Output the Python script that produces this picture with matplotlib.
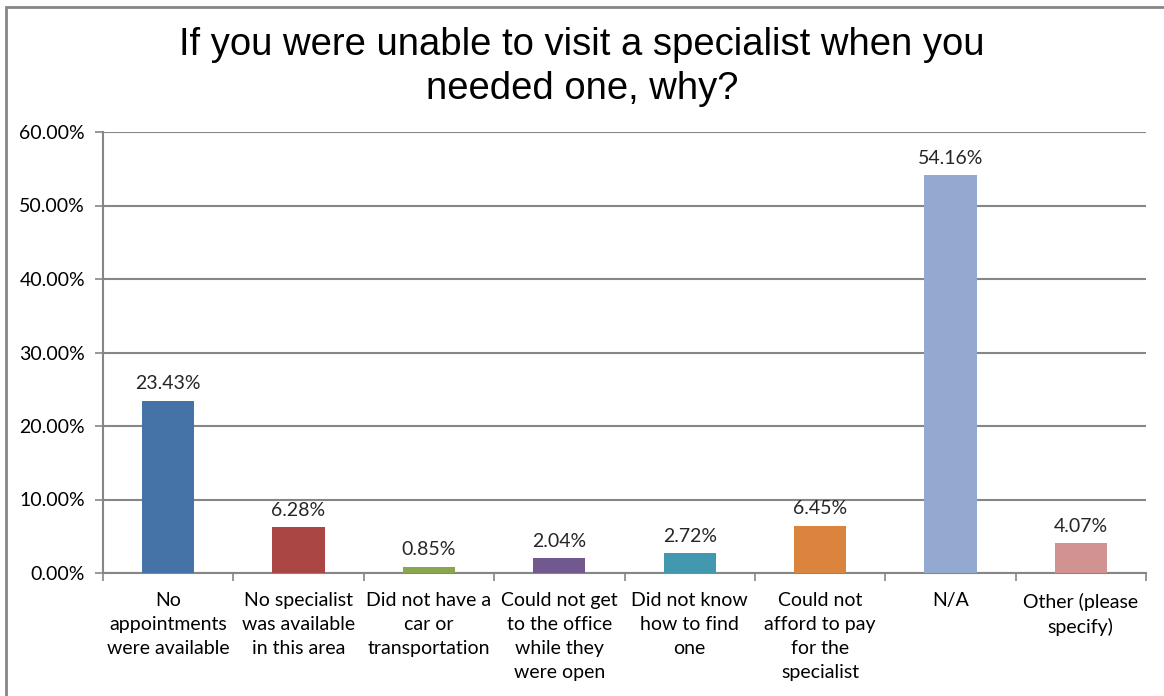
import numpy as np
import matplotlib.pyplot as plt
from matplotlib.patches import Rectangle

categories = [
    "No\nappointments\nwere available",
    "No specialist\nwas available\nin this area",
    "Did not have a\ncar or\ntransportation",
    "Could not get\nto the office\nwhile they\nwere open",
    "Did not know\nhow to find\none",
    "Could not\nafford to pay\nfor the\nspecialist",
    "N/A",
    "Other (please\nspecify)",
]
values = [23.43, 6.28, 0.85, 2.04, 2.72, 6.45, 54.16, 4.07]
colors = ["#4572A7", "#AA4643", "#89A54E", "#71588F",
          "#4198AF", "#DB843D", "#93A9CF", "#D19392"]
y_ticks = [0, 10, 20, 30, 40, 50, 60]

label_font = ["Lato", "DejaVu Sans"]
grid_color = "#868686"

fig = plt.figure(figsize=(11.64, 6.96), dpi=100)
ax = fig.add_axes([103 / 1164, 1 - 573 / 696, 1043 / 1164, 441 / 696])

x = np.arange(len(values))
ax.bar(x, values, width=0.4, color=colors, zorder=3)

for xi, v in zip(x, values):
    ax.annotate(f"{v:.2f}%", (xi, v), xytext=(0, 6), textcoords="offset points",
                ha="center", va="bottom", fontsize=14, family=label_font,
                color="#262626")

ax.set_xlim(-0.5, len(values) - 0.5)
ax.set_ylim(0, 60)
ax.set_yticks(y_ticks)
ax.set_yticklabels([f"{t:.2f}%" for t in y_ticks], family=label_font, fontsize=14)
ax.yaxis.grid(True, color=grid_color, linewidth=1.5, zorder=0)
ax.tick_params(axis="y", length=6, width=1.2, color=grid_color, pad=7)

# category labels centred, tick marks at boundaries
ax.set_xticks(x)
ax.set_xticklabels(categories, family=label_font, fontsize=14,
                   linespacing=1.5, va="top")
ax.tick_params(axis="x", length=0, pad=14)
ax.set_xticks(np.arange(len(values) + 1) - 0.5, minor=True)
ax.tick_params(axis="x", which="minor", length=6, width=1.2, color=grid_color)

for side in ["top", "right"]:
    ax.spines[side].set_visible(False)
for side in ["left", "bottom"]:
    ax.spines[side].set_color(grid_color)
    ax.spines[side].set_linewidth(1.5)

fig.text(0.5, 1 - 67 / 696,
         "If you were unable to visit a specialist when you\nneeded one, why?",
         ha="center", va="center", fontsize=27.5, family="Liberation Sans",
         linespacing=1.3)

# chart border
fig.patches.append(Rectangle((6 / 1164, -0.1), 1.2, 1 - 7 / 696 + 0.1,
                             transform=fig.transFigure, fill=False,
                             edgecolor=grid_color, linewidth=2))

fig.savefig("out.png", dpi=100)
